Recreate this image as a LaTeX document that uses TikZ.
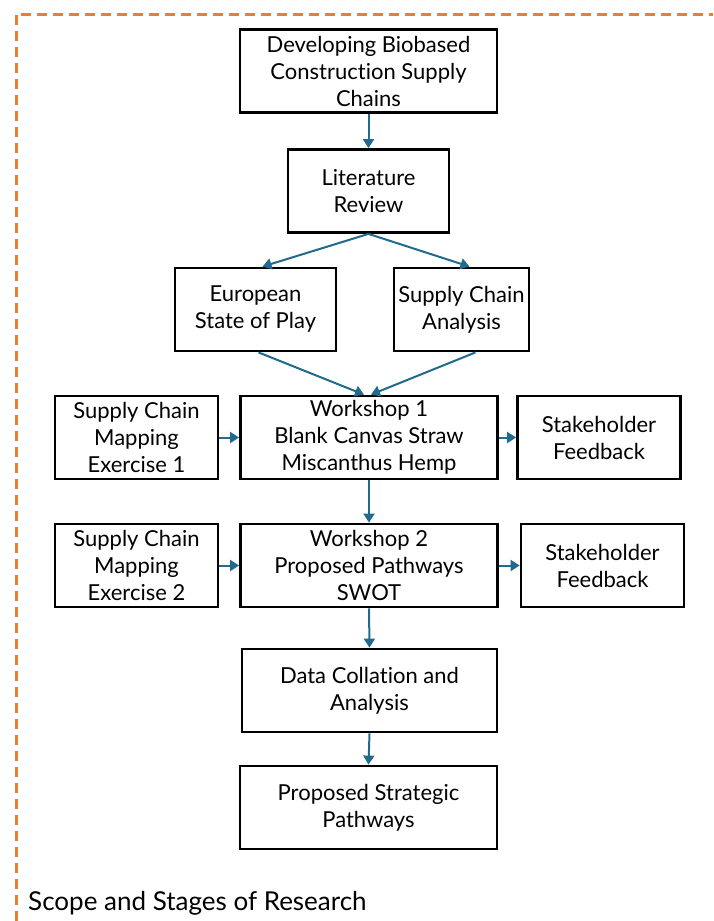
\documentclass[tikz,border=0pt]{standalone}
\usepackage{fontspec}
\setmainfont{Lato}[Ligatures=NoCommon]
\usetikzlibrary{arrows.meta,calc}
\definecolor{frameorange}{HTML}{ED7D31}
\definecolor{arrowblue}{HTML}{1F6A8D}
\begin{document}
\begin{tikzpicture}[x=1pt,y=-1pt,
  box/.style={draw=black,line width=2.8pt,align=center,inner sep=2pt,
    font=\fontsize{22}{27}\selectfont,minimum height=83pt},
  wide/.style={box,minimum width=257pt},
  side/.style={box,minimum width=163pt},
  arr/.style={draw=arrowblue,line width=2pt,-{Triangle[length=9pt,width=11pt]}}]
\useasboundingbox (0,0) rectangle (713,921);
\draw[frameorange,line width=3pt,dash pattern=on 10pt off 6pt] (16,921) -- (16,14) -- (713,14);
\node[wide] (dev) at (368.5,71) {Developing Biobased\\Construction Supply\\Chains};
\node[box,minimum width=161pt] (lit) at (368.5,191) {Literature\\Review};
\node[box,minimum width=161pt] (eur) at (255.5,309.5) {European\\State of Play};
\node[box,minimum width=135pt] (sca) at (461.5,309.5) {Supply Chain\\Analysis};
\node[wide] (ws1) at (369,437.5) {Workshop 1\\Blank Canvas Straw\\Miscanthus Hemp};
\node[side] (sm1) at (136.5,437.5) {Supply Chain\\Mapping\\Exercise 1};
\node[side] (sf1) at (599,437.5) {Stakeholder\\Feedback};
\node[wide] (ws2) at (369,565.5) {Workshop 2\\Proposed Pathways\\SWOT};
\node[side] (sm2) at (136.5,565.5) {Supply Chain\\Mapping\\Exercise 2};
\node[side] (sf2) at (602.5,565.5) {Stakeholder\\Feedback};
\node[box,minimum width=255pt] (dat) at (369.5,690.5) {Data Collation and\\Analysis};
\node[wide] (pro) at (368.5,807.5) {Proposed Strategic\\Pathways};
\node[anchor=base west,font=\fontsize{26}{30}\selectfont,inner sep=0pt] (scope) at (28,910) {Scope and Stages of Research};
\draw[arr] (dev.south) -- (lit.north);
\draw[arr] (lit.south) -- ([xshift=7pt]eur.north);
\draw[arr] (lit.south) -- ([xshift=8pt]sca.north);
\draw[arr] ([xshift=3pt]eur.south) -- ([xshift=-5pt]ws1.north);
\draw[arr] ([xshift=14pt]sca.south) -- ([xshift=2pt]ws1.north);
\draw[arr] (sm1.east) -- (ws1.west);
\draw[arr] (ws1.east) -- (sf1.west);
\draw[arr] (ws1.south) -- (ws2.north);
\draw[arr] (sm2.east) -- (ws2.west);
\draw[arr] (ws2.east) -- (sf2.west);
\draw[arr] (ws2.south) -- (dat.north);
\draw[arr] (dat.south) -- (pro.north);
\end{tikzpicture}
\end{document}
